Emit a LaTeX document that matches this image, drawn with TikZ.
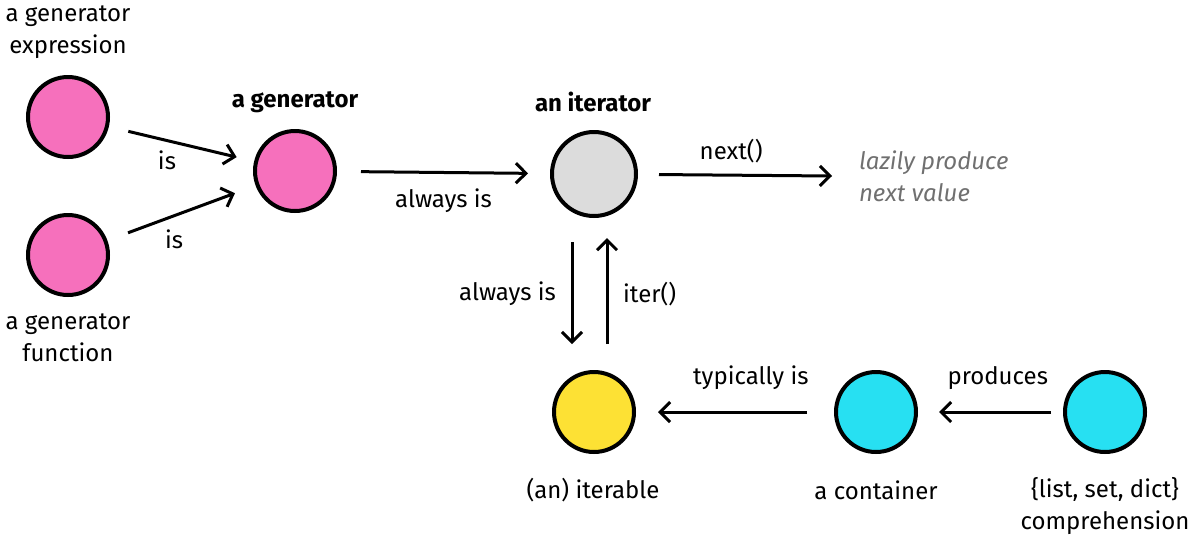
\documentclass[tikz,border=0pt]{standalone}
\usepackage{fontspec}
\setmainfont{Fira Sans}
\usetikzlibrary{arrows.meta}
\definecolor{genpink}{HTML}{F670BC}
\definecolor{itgray}{HTML}{DCDCDC}
\definecolor{ityellow}{HTML}{FDE134}
\definecolor{contcyan}{HTML}{27E0F2}
\definecolor{notegray}{HTML}{707070}
\tikzset{
  dot/.style={circle, draw=black, line width=2pt, minimum size=40pt, inner sep=0pt},
  lbl/.style={align=center, font=\fontsize{12}{16}\selectfont},
  arr/.style={-{Straight Barb[length=5pt,width=10pt]}, line width=1.5pt}
}
\begin{document}
\begin{tikzpicture}[x=0.5pt, y=-0.5pt]
\useasboundingbox (0,0) rectangle (1200,542);
\node[dot, fill=genpink] (GE) at (68,117) {};
\node[dot, fill=genpink] (GF) at (68,255) {};
\node[dot, fill=genpink] (G) at (295,171) {};
\node[dot, fill=itgray, minimum size=42pt] (I) at (594,174) {};
\node[dot, fill=ityellow] (IT) at (594,412) {};
\node[dot, fill=contcyan] (C) at (876,412) {};
\node[dot, fill=contcyan] (CP) at (1105,412) {};
\coordinate (NX) at (832,176);
\node[lbl] (GEtxt) at (68,32) {a generator\\expression};
\node[lbl] (GFtxt) at (68,338) {a generator\\function};
\node[lbl, font=\fontsize{12}{16}\selectfont\bfseries] (Gtxt) at (295,102) {a generator};
\node[lbl, font=\fontsize{12}{16}\selectfont\bfseries] (Itxt) at (593,102) {an iterator};
\node[lbl] (ITtxt) at (593,490) {(an) iterable};
\node[lbl] (Ctxt) at (876,490) {a container};
\node[lbl] (CPtxt) at (1105,506) {\{list, set, dict\}\\comprehension};
\node[lbl, text=notegray, align=left, anchor=west, font=\fontsize{12}{16}\selectfont\itshape] (NXtxt) at (852,176) {lazily produce\\next value};
\draw[arr, shorten <=10pt, shorten >=9pt] (GE) -- node[lbl, pos=0.4, below=1pt] {is} (G);
\draw[arr, shorten <=11pt, shorten >=11pt] (GF) -- node[lbl, pos=0.45, below=3pt] {is} (G);
\draw[arr, shorten <=12pt, shorten >=11pt] (G) -- node[lbl, pos=0.5, below=4pt] {always is} (I);
\draw[arr, shorten <=10.5pt] (I) -- node[lbl, pos=0.48, above=2pt] {next()} (NX);
\draw[arr, shorten <=12pt, shorten >=13pt] ([xshift=-11pt]I.south) -- node[lbl, pos=0.5, left=4pt] {always is} ([xshift=-11pt]IT.north);
\draw[arr, shorten <=13pt, shorten >=10pt] ([xshift=6.5pt]IT.north) -- node[lbl, pos=0.5, right=4pt] {iter()} ([xshift=6.5pt]I.south);
\draw[arr, shorten <=13.5pt, shorten >=11pt] (C) -- node[lbl, pos=0.42, above=7pt] {typically is} (IT);
\draw[arr, shorten <=6pt, shorten >=10.5pt] (CP) -- node[lbl, pos=0.45, above=7pt] {produces} (C);
\end{tikzpicture}
\end{document}
